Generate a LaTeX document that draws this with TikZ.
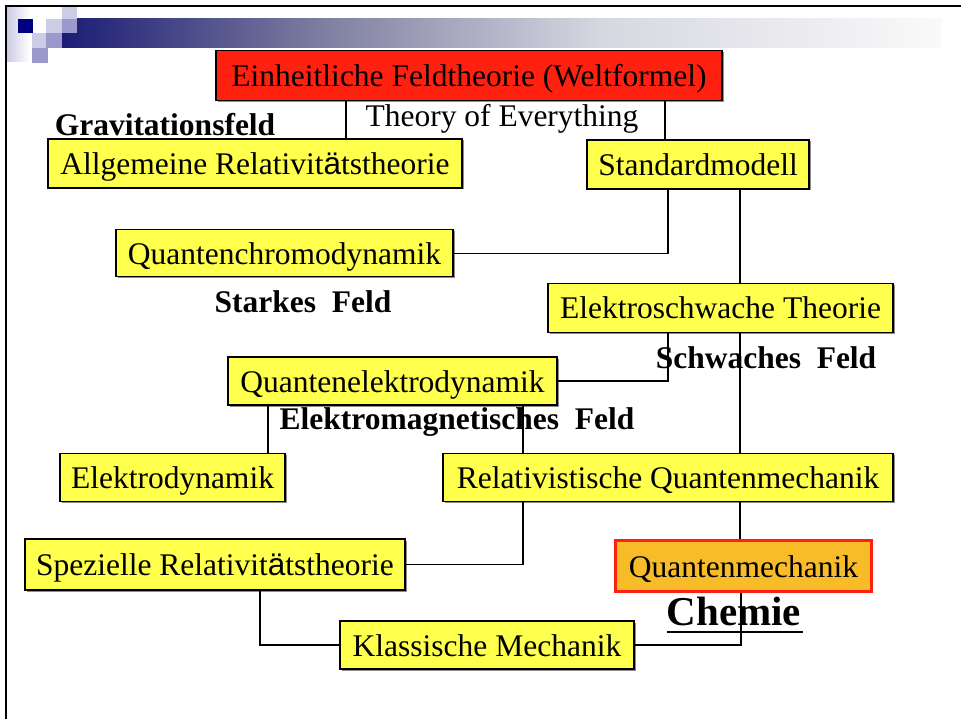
\documentclass[tikz,border=0pt]{standalone}
\usepackage{fontspec}
\setmainfont{Liberation Serif}
\newfontfamily\arialf{Liberation Sans}
\usetikzlibrary{shadows}
\definecolor{yel}{RGB}{255,255,77}
\definecolor{redf}{RGB}{255,32,16}
\definecolor{orf}{RGB}{248,188,40}
\definecolor{navyc}{RGB}{0,0,128}
\definecolor{lav}{RGB}{204,204,230}
\definecolor{medc}{RGB}{153,153,204}
\definecolor{barA}{RGB}{28,28,118}
\definecolor{barB}{RGB}{125,125,160}
\definecolor{barC}{RGB}{215,215,225}
\definecolor{barD}{RGB}{250,250,250}
\begin{document}
\begin{tikzpicture}[x=1pt,y=-1pt,
  box/.style={draw=black, line width=1.2pt, fill=yel, inner sep=0pt,
    minimum height=49pt, text height=27pt, text depth=5pt,
    font=\fontsize{31.5}{36}\selectfont,
    drop shadow={shadow xshift=1.5pt, shadow yshift=-1.5pt, fill=black!45, opacity=1}},
  lbl/.style={font=\fontsize{31.5}{36}\selectfont\bfseries, inner sep=0pt},
  plain/.style={font=\fontsize{31.5}{36}\selectfont, inner sep=0pt},
  con/.style={line width=1.2pt, draw=black}]
\useasboundingbox (0,0) rectangle (961,719);
\fill[white] (0,0) rectangle (961,719);
% header decoration
\shade[left color=barA, right color=barB] (62,19) rectangle (320,48);
\shade[left color=barB, right color=barC] (319.5,19) rectangle (600,48);
\shade[left color=barC, right color=barD] (599.5,19) rectangle (942,48);
\shade[left color=lav, right color=white] (7,8) rectangle (30,62);
\fill[navyc] (18,19) rectangle (33,33);
\fill[lav] (46,19) rectangle (62,33);
\fill[lav] (62,7) rectangle (77,19);
\fill[medc] (62,19) rectangle (77,33);
\fill[lav] (32,33) rectangle (46,48);
\fill[medc] (46,33) rectangle (62,48);
\fill[medc] (32,48) rectangle (48,63);
\draw[line width=2.5pt] (6,719) -- (6,6) -- (961,6);
% boxes
\node[box, fill=redf, minimum width=506pt, minimum height=50pt] (uft) at (469,75.5) {Einheitliche Feldtheorie (Weltformel)};
\node[box, minimum width=414pt] (art) at (255,163.5) {Allgemeine Relativit{\arialf ä}tstheorie};
\node[box, minimum width=222pt] (sm) at (698,164.5) {Standardmodell};
\node[box, minimum width=337pt, minimum height=47pt] (qcd) at (284.5,253.3) {Quantenchromodynamik};
\node[box, minimum width=345pt] (ews) at (720.5,308) {Elektroschwache Theorie};
\node[box, minimum width=329pt, minimum height=48pt] (qed) at (392.5,381) {Quantenelektrodynamik};
\node[box, minimum width=225pt, minimum height=48pt] (ed) at (172.5,477.5) {Elektrodynamik};
\node[box, minimum width=450pt, minimum height=48pt] (rqm) at (668,477.5) {Relativistische Quantenmechanik};
\node[box, minimum width=380pt, minimum height=51pt] (srt) at (215,564.5) {Spezielle Relativit{\arialf ä}tstheorie};
\node[box, fill=orf, draw=redf, line width=3.2pt, minimum width=256pt, minimum height=51pt] (qm) at (743.5,566) {Quantenmechanik};
\node[box, minimum width=294pt, minimum height=48pt] (km) at (487,645) {Klassische Mechanik};
% connectors
\draw[con] (346,0 |- uft.south) -- (346,0 |- art.north);
\draw[con] (665,0 |- uft.south) -- (665,0 |- sm.north);
\draw[con] (668,0 |- sm.south) |- (qcd.east);
\draw[con] (740,0 |- sm.south) -- (740,0 |- ews.north);
\draw[con] (668,0 |- ews.south) |- (qed.east);
\draw[con] (740,0 |- ews.south) -- (740,0 |- rqm.north);
\draw[con] (268,0 |- qed.south) -- (268,0 |- ed.north);
\draw[con] (523,0 |- qed.south) -- (523,0 |- rqm.north);
\draw[con] (523,0 |- rqm.south) |- (srt.east);
\draw[con] (740,0 |- rqm.south) -- (740,0 |- qm.north);
\draw[con] (260,0 |- srt.south) |- (km.west);
\draw[con] (741,0 |- qm.south) |- (km.east);
% labels
\node[plain] (toe) at (502,118.7) {Theory of Everything};
\node[lbl] (grav) at (165,125) {Gravitationsfeld};
\node[lbl] (stark) at (303,301.5) {Starkes\ \ Feld};
\node[lbl] (schw) at (766,357.5) {Schwaches\ \ Feld};
\node[lbl] (emf) at (457,422) {Elektromagnetisches\ \ Feld};
\node[lbl, font=\fontsize{41}{46}\selectfont\bfseries] (chem) at (734,611.5) {Chemie};
\draw[line width=2.3pt] (667,632) -- (803,632);
\end{tikzpicture}
\end{document}
